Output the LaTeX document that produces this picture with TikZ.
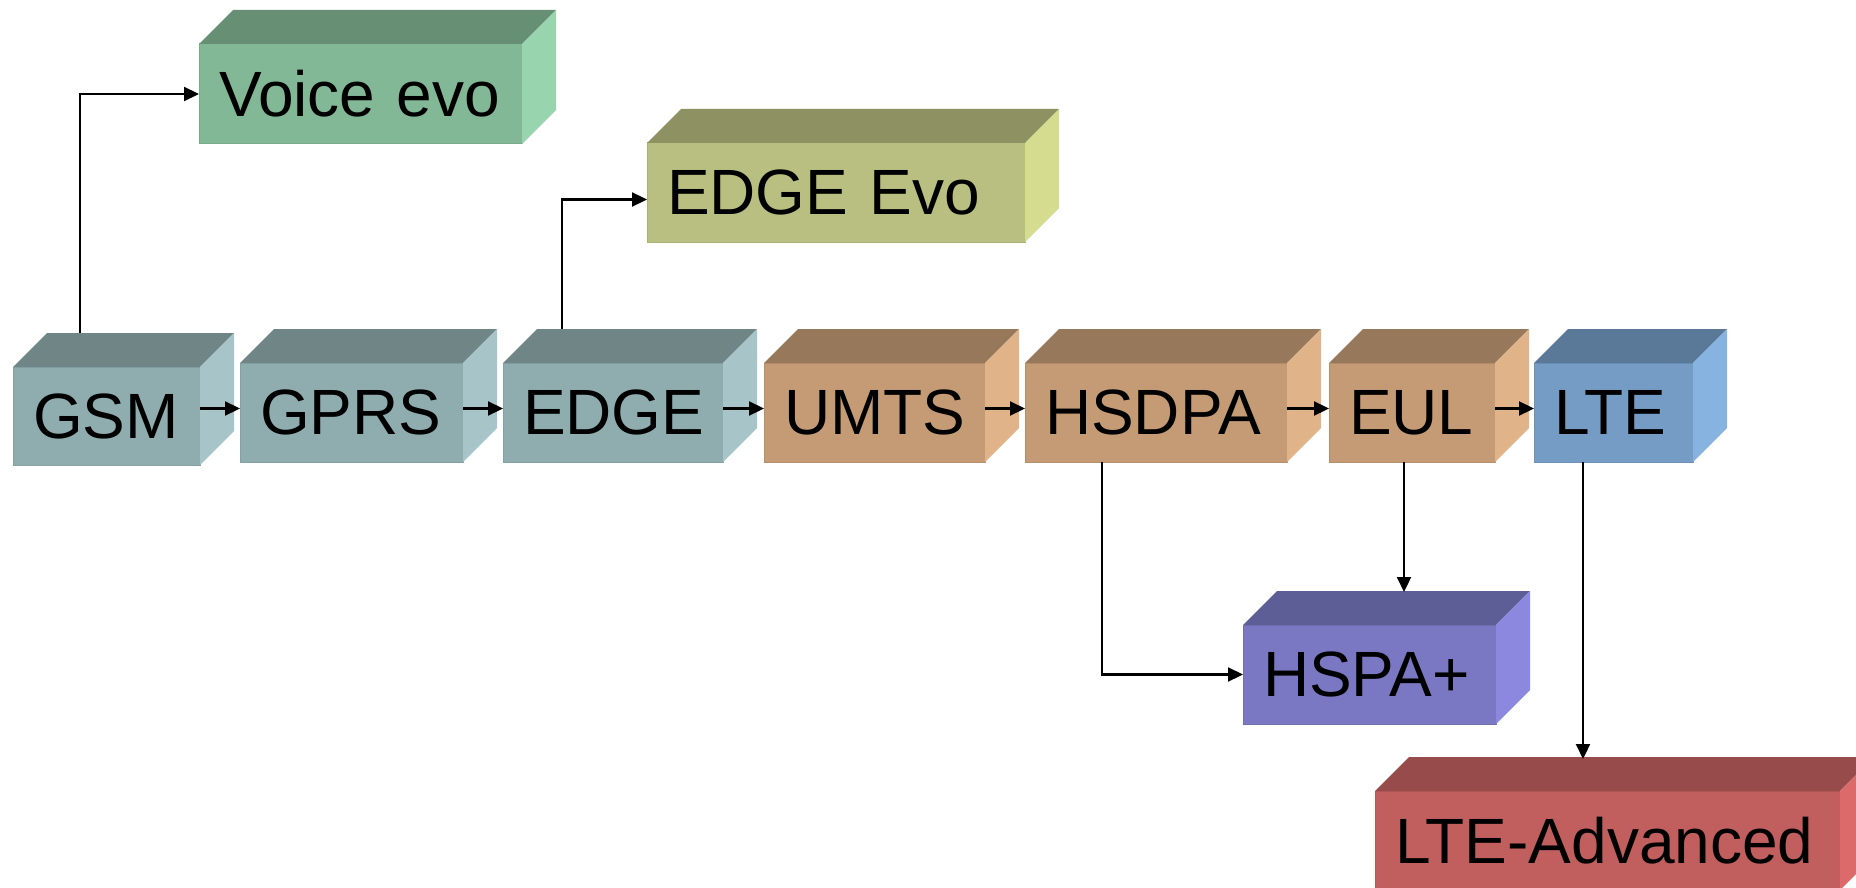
\documentclass[tikz,border=0pt]{standalone}
\usepackage{fontspec}
\setmainfont{Liberation Sans}
\usetikzlibrary{arrows.meta, positioning}

% box colours: front, top and side faces
\definecolor{frontslate}{HTML}{8FADAF}
\definecolor{topslate}{HTML}{708586}
\definecolor{sideslate}{HTML}{A7C5C8}
\definecolor{frontmint}{HTML}{82B895}
\definecolor{topmint}{HTML}{668F74}
\definecolor{sidemint}{HTML}{98D5AE}
\definecolor{frontolive}{HTML}{B9BF80}
\definecolor{topolive}{HTML}{8E9262}
\definecolor{sideolive}{HTML}{D5DC90}
\definecolor{fronttan}{HTML}{C49B75}
\definecolor{toptan}{HTML}{97785B}
\definecolor{sidetan}{HTML}{E0B388}
\definecolor{frontblue}{HTML}{759CC5}
\definecolor{topblue}{HTML}{5A7998}
\definecolor{sideblue}{HTML}{87B3E0}
\definecolor{frontlilac}{HTML}{7A78C2}
\definecolor{toplilac}{HTML}{5E5E97}
\definecolor{sidelilac}{HTML}{8C88E0}
\definecolor{frontbrick}{HTML}{C15E5E}
\definecolor{topbrick}{HTML}{974B4B}
\definecolor{sidebrick}{HTML}{DD6A6A}

\tikzset{
  cube/.style={fill=front#1, draw=front#1!93!black, line width=1pt,
    anchor=north west, outer sep=0pt, inner xsep=20pt, inner ysep=0pt,
    align=left, font=\fontsize{64}{70}\selectfont},
  arr/.style={line width=2.2pt, -{Triangle[length=15pt, width=14pt]}},
}

\begin{document}
\begin{tikzpicture}[x=1pt, y=-1pt]

		\useasboundingbox (0,0) rectangle (1856,888);
		\fill[white] (0,0) rectangle (1856,888);
		\clip (0,0) rectangle (1856,888);

		% Main line
		\node[cube=slate, text width=147pt, minimum height=98pt] (gsm) at (13,367) {GSM};
		\node[cube=slate, text width=183pt, minimum height=99pt] (gprs) at (240,363) {GPRS};
		\node[cube=slate, text width=180pt, minimum height=99pt] (edge) at (503,363) {EDGE};
		\node[cube=tan, text width=181pt, minimum height=99pt] (umts) at (764,363) {UMTS};
		\node[cube=tan, text width=222pt, minimum height=99pt] (hsdpa) at (1025,363) {HSDPA};
		\node[cube=tan, text width=126pt, minimum height=99pt] (eul) at (1329,363) {EUL};
		\node[cube=blue, text width=119pt, minimum height=99pt] (lte) at (1534,363) {LTE};

		% Branches
		\node[cube=mint, text width=283pt, minimum height=100pt] (voice) at (199,44) {Voice~evo};
		\node[cube=olive, text width=338pt, minimum height=99pt] (edgeevo) at (647,143) {EDGE Evo};
		\node[cube=lilac, text width=213pt, minimum height=99pt] (hspa) at (1243,625) {HSPA+};
		\node[cube=brick, text width=425pt, minimum height=99pt] (lteadv) at (1375,791) {LTE-Advanced};

		% Top and side faces
		\foreach \nd/\col in {gsm/slate, gprs/slate, edge/slate, umts/tan, hsdpa/tan, eul/tan,
		    lte/blue, voice/mint, edgeevo/olive, hspa/lilac, lteadv/brick}{
			\fill[top\col] (\nd.north west) -- ++(34,-34) -- ([shift={(34,-34)}]\nd.north east) -- (\nd.north east) -- cycle;
			\fill[side\col] (\nd.north east) -- ++(34,-34) -- ([shift={(34,-34)}]\nd.south east) -- (\nd.south east) -- cycle;
		}

		% Arrows along the line
		\foreach \a/\b in {gsm/gprs, gprs/edge, edge/umts, umts/hsdpa, hsdpa/eul, eul/lte}{
			\draw[arr] ([yshift=4pt]\a.east |- \b.west) -- ([yshift=4pt]\b.west);
		}

		% Arrows to the branches
		\draw[arr] ([shift={(67,-34)}]gsm.north west) |- (voice.west);
		\draw[arr] ([shift={(59,-34)}]edge.north west) |- ([yshift=-7pt]edgeevo.west);
		\draw[arr] ([xshift=77pt]hsdpa.south west) |- (hspa.west);
		\draw[arr] ([xshift=75pt]eul.south west) -- ([shift={(161,-33)}]hspa.north west);
		\draw[arr] ([xshift=49pt]lte.south west) -- ([shift={(208,-32)}]lteadv.north west);

	\end{tikzpicture}
\end{document}
